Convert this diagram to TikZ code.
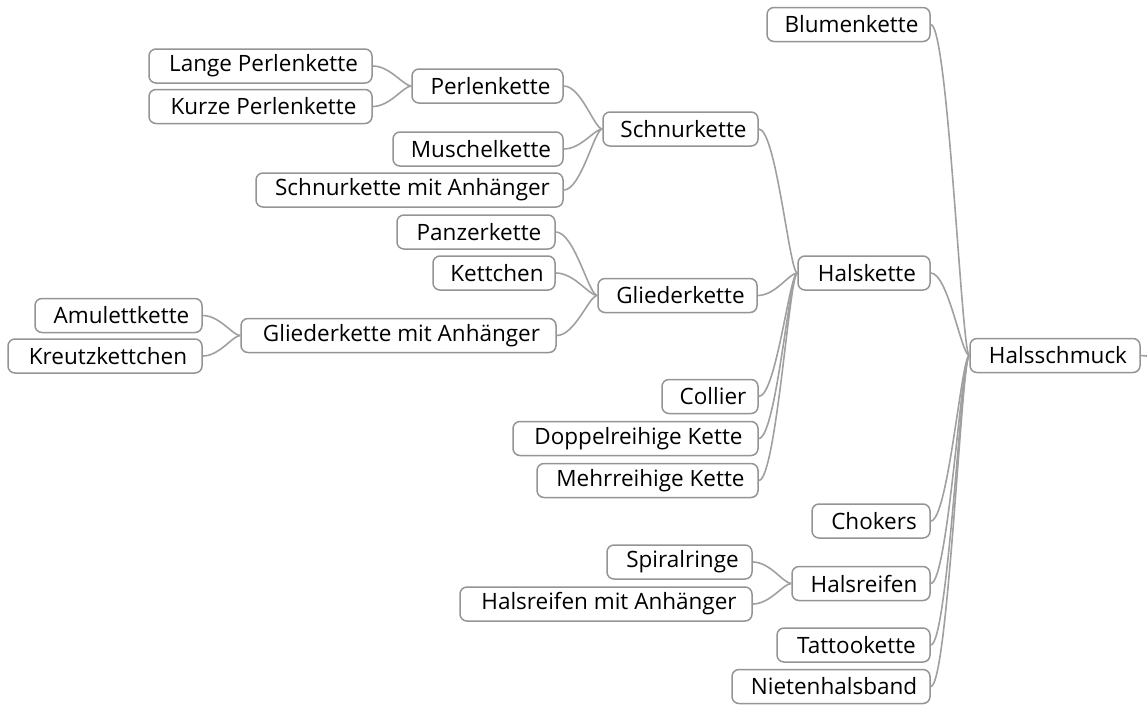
\documentclass[tikz,border=0pt]{standalone}
\usepackage{fontspec}
\setmainfont{Open Sans}
\usetikzlibrary{calc}
\definecolor{boxgray}{RGB}{148,148,148}
\definecolor{linkgray}{RGB}{160,160,160}
\tikzset{
  topic/.style={draw=boxgray, line width=1.5pt, rounded corners=7pt, fill=white,
    minimum height=34pt, inner xsep=0pt, inner ysep=0pt, text=black,
    font=\fontsize{22.5}{27}\selectfont,
    execute at begin node={\hspace*{6pt}}},
  branch/.style={draw=linkgray, line width=1.6pt},
}
% curved branch from the right side of a child topic to the left side of its parent
\newcommand\linkto[2]{%
  \draw[branch] let \p1=(#1.east), \p2=(#2.west) in
    (\p1) .. controls ({\x1+0.45*(\x2-\x1)},\y1) and ({\x1+0.8*(\x2-\x1)},\y2) .. (\p2);}
\begin{document}
\begin{tikzpicture}[x=1pt,y=-1pt]
\useasboundingbox (0,0) rectangle (1147,704);

% root and first level
\node[topic, minimum width=170pt] (halsschmuck) at (1055,355.5) {Halsschmuck};
\node[topic, minimum width=163pt] (blumen) at (848.5,24.5) {Blumenkette};
\node[topic, minimum width=132pt] (halskette) at (864,273) {Halskette};
\node[topic, minimum width=118pt] (chokers) at (871,521) {Chokers};
\node[topic, minimum width=138pt] (halsreifen) at (861,583.5) {Halsreifen};
\node[topic, minimum width=153pt] (tattoo) at (853.5,645) {Tattookette};
\node[topic, minimum width=198pt] (nieten) at (831,686.5) {Nietenhalsband};

% Halskette branch
\node[topic, minimum width=155pt] (schnur) at (680.5,129) {Schnurkette};
\node[topic, minimum width=159pt] (glieder) at (677.5,295.5) {Gliederkette};
\node[topic, minimum width=96pt] (collier) at (710,396.5) {Collier};
\node[topic, minimum width=245pt] (doppel) at (635.5,438.5) {Doppelreihige Kette};
\node[topic, minimum width=221pt] (mehr) at (647.5,480.5) {Mehrreihige Kette};

% Schnurkette branch
\node[topic, minimum width=151pt] (perlen) at (487.5,86) {Perlenkette};
\node[topic, minimum width=170pt] (muschel) at (478,149) {Muschelkette};
\node[topic, minimum width=307pt] (schnuranh) at (409.5,190) {Schnurkette mit Anhänger};
\node[topic, minimum width=223pt] (lange) at (260.5,66) {Lange Perlenkette};
\node[topic, minimum width=223pt] (kurze) at (260.5,106.5) {Kurze Perlenkette};

% Gliederkette branch
\node[topic, minimum width=158pt] (panzer) at (476,232) {Panzerkette};
\node[topic, minimum width=122pt] (kettchen) at (494,273) {Kettchen};
\node[topic, minimum width=315pt] (gliederanh) at (398.5,335.5) {Gliederkette mit Anhänger};
\node[topic, minimum width=167pt] (amulett) at (118.5,315.5) {Amulettkette};
\node[topic, minimum width=194pt] (kreutz) at (105,356) {Kreutzkettchen};

% Halsreifen branch
\node[topic, minimum width=145pt] (spiral) at (679.5,562) {Spiralringe};
\node[topic, minimum width=292pt] (reifenanh) at (606,604) {Halsreifen mit Anhänger};

% connectors
\linkto{lange}{perlen}
\linkto{kurze}{perlen}
\linkto{perlen}{schnur}
\linkto{muschel}{schnur}
\linkto{schnuranh}{schnur}
\linkto{amulett}{gliederanh}
\linkto{kreutz}{gliederanh}
\linkto{panzer}{glieder}
\linkto{kettchen}{glieder}
\linkto{gliederanh}{glieder}
\linkto{schnur}{halskette}
\linkto{glieder}{halskette}
\linkto{collier}{halskette}
\linkto{doppel}{halskette}
\linkto{mehr}{halskette}
\linkto{spiral}{halsreifen}
\linkto{reifenanh}{halsreifen}
\linkto{blumen}{halsschmuck}
\linkto{halskette}{halsschmuck}
\linkto{chokers}{halsschmuck}
\linkto{halsreifen}{halsschmuck}
\linkto{tattoo}{halsschmuck}
\linkto{nieten}{halsschmuck}

% branch leaving the root to the right
\coordinate (rootout) at (1147,356);
\draw[branch] (halsschmuck.east) -- (rootout);
\end{tikzpicture}
\end{document}
